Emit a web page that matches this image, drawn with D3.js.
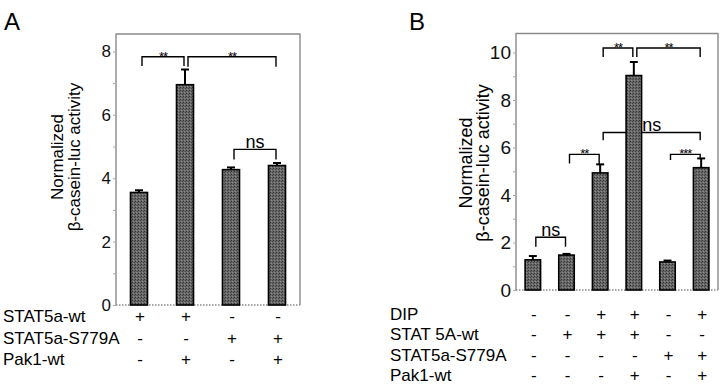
<!DOCTYPE html>
<html>
<head>
<meta charset="utf-8">
<script src="https://cdn.jsdelivr.net/npm/d3@7"></script>
<style>
  body { margin: 0; background: #fff; }
  svg { font-family: "Liberation Sans", Arial, sans-serif; }
</style>
</head>
<body>
<div id="chart"></div>
<script>
// ---- data ----
var meansA = [3.55, 6.95, 4.27, 4.40];
var errA = [0.07, 0.48, 0.07, 0.08];
var rowLabelsA = ["STAT5a-wt", "STAT5a-S779A", "Pak1-wt"];
var signsA = [
  ["+", "+", "-", "-"],
  ["-", "-", "+", "+"],
  ["-", "+", "-", "+"]
];
var ticksA = [0, 2, 4, 6, 8];
// brackets: bar index from/to, height in data units, end drops in data units
var bracketsA = [
  {from: 0, to: 1, y: 7.83, dropL: 7.54, dropR: 7.54, label: "**"},
  {from: 1, to: 3, y: 7.83, dropL: 7.52, dropR: 7.52, label: "**"},
  {from: 2, to: 3, y: 4.91, dropL: 4.59, dropR: 4.59, label: "ns"}
];

var meansB = [1.27, 1.47, 4.93, 9.03, 1.18, 5.15];
var errB = [0.16, 0.05, 0.36, 0.57, 0.06, 0.39];
var rowLabelsB = ["DIP", "STAT 5A-wt", "STAT5a-S779A", "Pak1-wt"];
var signsB = [
  ["-", "-", "+", "+", "-", "+"],
  ["-", "+", "+", "+", "-", "-"],
  ["-", "-", "-", "-", "+", "+"],
  ["-", "-", "-", "+", "-", "+"]
];
var ticksB = [0, 2, 4, 6, 8, 10];
var bracketsB = [
  {from: 0, to: 1, y: 2.22, dropL: 1.82, dropR: 1.82, label: "ns"},
  {from: 1, to: 2, y: 5.71, dropL: 5.33, dropR: 5.30, label: "**"},
  {from: 2, to: 3, y: 10.19, dropL: 9.81, dropR: 9.81, label: "**"},
  {from: 3, to: 5, y: 10.19, dropL: 9.81, dropR: 9.81, label: "**"},
  {from: 2, to: 5, y: 6.63, dropL: 6.31, dropR: 6.31, label: "ns"},
  {from: 4, to: 5, y: 5.71, dropL: 5.47, dropR: 5.55, label: "***"}
];

var svg = d3.select("#chart").append("svg")
  .attr("width", 720)
  .attr("height", 387);

// stippled grey fill like the halftone bars
var defs = svg.append("defs");
var pat = defs.append("pattern")
  .attr("id", "stipple")
  .attr("width", 3).attr("height", 3)
  .attr("patternUnits", "userSpaceOnUse");
pat.append("rect").attr("width", 3).attr("height", 3).attr("fill", "#686868");
pat.append("rect").attr("width", 1).attr("height", 1).attr("fill", "#333");
pat.append("rect").attr("x", 2).attr("y", 1).attr("width", 1).attr("height", 1).attr("fill", "#444");
pat.append("rect").attr("x", 1).attr("y", 2).attr("width", 1).attr("height", 1).attr("fill", "#8e8e8e");

function drawPanel(cfg) {
  var g = svg.append("g");

  var x = d3.scaleBand()
    .domain(d3.range(cfg.means.length))
    .range([cfg.left, cfg.right])
    .padding(0);
  var y = d3.scaleLinear()
    .domain([0, cfg.ymax])
    .range([cfg.bottom, cfg.top]);
  var cx = function(i) { return x(i) + x.bandwidth() / 2; };
  var bw = x.bandwidth() * cfg.barFrac;

  // panel letter
  g.append("text")
    .attr("x", cfg.letterX).attr("y", 30)
    .style("font-size", "24px")
    .text(cfg.letter);

  // frame
  g.append("path")
    .attr("d", "M" + cfg.left + "," + cfg.bottom + "V" + cfg.top + "H" + cfg.right + "V" + cfg.bottom)
    .attr("fill", "none").attr("stroke", "#8a8a8a").attr("stroke-width", 1.4);
  g.append("line")
    .attr("x1", cfg.left).attr("x2", cfg.right)
    .attr("y1", cfg.bottom).attr("y2", cfg.bottom)
    .attr("stroke", "#8a8a8a").attr("stroke-width", 1.4)
    .attr("stroke-dasharray", "1.5,1.5");

  // y axis: ticks at every unit, labels on the even ones
  var ax = g.append("g")
    .attr("transform", "translate(" + cfg.left + ",0)")
    .call(d3.axisLeft(y)
      .tickValues(d3.range(0, cfg.ymax, 1))
      .tickSize(3)
      .tickFormat(function(d) { return cfg.ticks.indexOf(d) >= 0 ? d : ""; }));
  ax.select(".domain").remove();
  ax.selectAll("line").attr("stroke", "#aaa");
  ax.selectAll("text")
    .attr("x", -5)
    .style("font-size", cfg.tickFont)
    .style("font-family", "'Liberation Sans', Arial, sans-serif")
    .attr("fill", "#111");

  // y label
  var yl = g.append("text")
    .attr("transform", "translate(" + cfg.labelX + "," + cfg.labelY + ") rotate(-90)")
    .attr("text-anchor", "middle")
    .style("font-size", cfg.labelFont);
  yl.append("tspan").attr("x", 0).attr("dy", 0).text("Normalized");
  yl.append("tspan").attr("x", 0).attr("dy", cfg.labelGap).text("\u03b2-casein-luc activity");

  // significance brackets (drawn under bars)
  var br = g.selectAll(".br").data(cfg.brackets).enter().append("g");
  br.append("path")
    .attr("d", function(d) {
      var x1 = cx(d.from) + 3, x2 = cx(d.to) - 1;
      return "M" + x1 + "," + y(d.dropL) + "V" + y(d.y) + "H" + x2 + "V" + y(d.dropR);
    })
    .attr("fill", "none").attr("stroke", "#000").attr("stroke-width", 1.4);
  br.append("text")
    .attr("x", function(d) { return (cx(d.from) + cx(d.to)) / 2 + 1; })
    .attr("y", function(d) { return d.label == "ns" ? y(d.y) - 1.5 : y(d.y) + 4; })
    .attr("text-anchor", "middle")
    .style("font-size", function(d) { return d.label == "ns" ? "18px" : "13px"; })
    .style("letter-spacing", function(d) { return d.label == "ns" ? "0px" : "-1px"; })
    .text(function(d) { return d.label; });

  // error bars (upper only)
  var eb = g.selectAll(".eb").data(cfg.means).enter().append("g");
  eb.append("line")
    .attr("x1", function(d, i) { return cx(i); })
    .attr("x2", function(d, i) { return cx(i); })
    .attr("y1", function(d) { return y(d); })
    .attr("y2", function(d, i) { return y(d + cfg.err[i]); })
    .attr("stroke", "#000").attr("stroke-width", 2);
  eb.append("line")
    .attr("x1", function(d, i) { return cx(i) - 4; })
    .attr("x2", function(d, i) { return cx(i) + 4; })
    .attr("y1", function(d, i) { return y(d + cfg.err[i]); })
    .attr("y2", function(d, i) { return y(d + cfg.err[i]); })
    .attr("stroke", "#000").attr("stroke-width", 2);

  // bars
  g.selectAll(".bar").data(cfg.means).enter().append("rect")
    .attr("x", function(d, i) { return cx(i) - bw / 2; })
    .attr("y", function(d) { return y(d); })
    .attr("width", bw)
    .attr("height", function(d) { return y(0) - y(d); })
    .attr("fill", "url(#stipple)")
    .attr("stroke", "#000").attr("stroke-width", 1.6);

  // treatment table under the chart
  var rowY = d3.scalePoint()
    .domain(d3.range(cfg.rows.length))
    .range([cfg.rowTop, cfg.rowBottom]);
  g.selectAll(".rowlab").data(cfg.rows).enter().append("text")
    .attr("x", cfg.rowLabelX)
    .attr("y", function(d, i) { return rowY(i) + 6; })
    .style("font-size", "17px")
    .text(function(d) { return d; });
  cfg.signs.forEach(function(row, r) {
    g.selectAll(".sg" + r).data(row).enter().append("text")
      .attr("x", function(d, i) { return cx(i) + 1; })
      .attr("y", rowY(r) + 6)
      .attr("text-anchor", "middle")
      .style("font-size", "17px")
      .text(function(d) { return d; });
  });
}

drawPanel({
  letter: "A", letterX: 4,
  means: meansA, err: errA, ticks: ticksA, brackets: bracketsA,
  rows: rowLabelsA, signs: signsA,
  left: 116, right: 300, top: 34, bottom: 305, ymax: 8.55,
  barFrac: 0.37, tickFont: "17px",
  labelX: 63, labelY: 157, labelGap: 17, labelFont: "17px",
  rowLabelX: 3, rowTop: 316, rowBottom: 359
});

drawPanel({
  letter: "B", letterX: 409,
  means: meansB, err: errB, ticks: ticksB, brackets: bracketsB,
  rows: rowLabelsB, signs: signsB,
  left: 516, right: 718, top: 33.5, bottom: 290, ymax: 10.8,
  barFrac: 0.46, tickFont: "19px",
  labelX: 472, labelY: 163, labelGap: 17, labelFont: "18px",
  rowLabelX: 390, rowTop: 314, rowBottom: 375
});
</script>
</body>
</html>
